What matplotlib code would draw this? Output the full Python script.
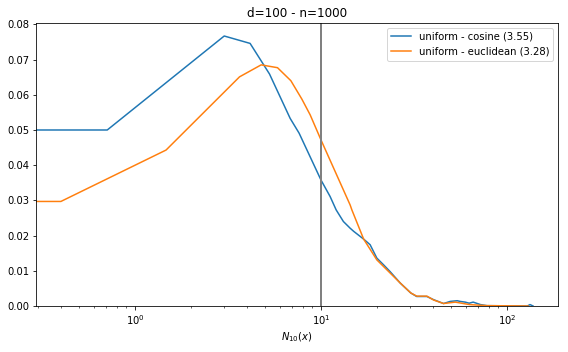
import numpy as np
import matplotlib
matplotlib.use('Agg')
import matplotlib.pyplot as plt

# N10(x) distributions
cos_x = [0.25, 0.71, 3.02, 4.16, 5.29, 6.83, 7.63, 10.0, 11.2, 12.07, 13.2, 14.35,
         15.0, 16.96, 18.38, 19.97, 21.7, 23.5, 26.7, 30.4, 32.7, 37.1, 40.3, 45.6,
         49.5, 54.0, 56.0, 59.6, 62.6, 65.8, 72.0, 78.0, 128.5, 133.0, 138.0]
cos_y = [0.0500, 0.0500, 0.0767, 0.0746, 0.0659, 0.0533, 0.0491, 0.0358, 0.0311, 0.0273,
         0.0240, 0.0221, 0.0212, 0.0190, 0.0174, 0.0136, 0.0117, 0.0098, 0.0065, 0.0037,
         0.0027, 0.0027, 0.0018, 0.0007, 0.0013, 0.0015, 0.0013, 0.0011, 0.0008, 0.0011,
         0.0004, 0.0001, 0.0000, 0.0004, 0.0000]

euc_x = [0.25, 0.40, 1.47, 3.65, 4.77, 5.84, 6.89, 7.89, 8.75, 10.0, 14.35, 14.66,
         16.96, 19.97, 26.7, 30.4, 32.7, 37.1, 40.3, 45.6, 52.7, 62.9, 78.0, 130.0]
euc_y = [0.0297, 0.0297, 0.0443, 0.0651, 0.0685, 0.0677, 0.0640, 0.0588, 0.0543, 0.0472,
         0.0287, 0.0273, 0.0190, 0.0131, 0.0065, 0.0037, 0.0028, 0.0028, 0.0017, 0.0007,
         0.0011, 0.0004, 0.0001, 0.0000]

labels = ['uniform - cosine (3.55)', 'uniform - euclidean (3.28)']
k = 10

fig, ax = plt.subplots(figsize=(568/72, 352/72), dpi=72)
fig.subplots_adjust(left=0.0634, right=0.9824, top=0.9347, bottom=0.1307)

ax.plot(cos_x, cos_y, color='#1f77b4', lw=1.5, label=labels[0])
ax.plot(euc_x, euc_y, color='#ff7f0e', lw=1.5, label=labels[1])
ax.axvline(k, color='gray', lw=2)

ax.set_xscale('log')
ax.set_xlim(0.294, 188)
ax.set_ylim(0, 0.0804)
ax.set_xlabel('$N_{10}(x)$')
ax.set_title('d=100 - n=1000')
ax.legend(loc='upper right')

fig.savefig('out.png', dpi=72)
